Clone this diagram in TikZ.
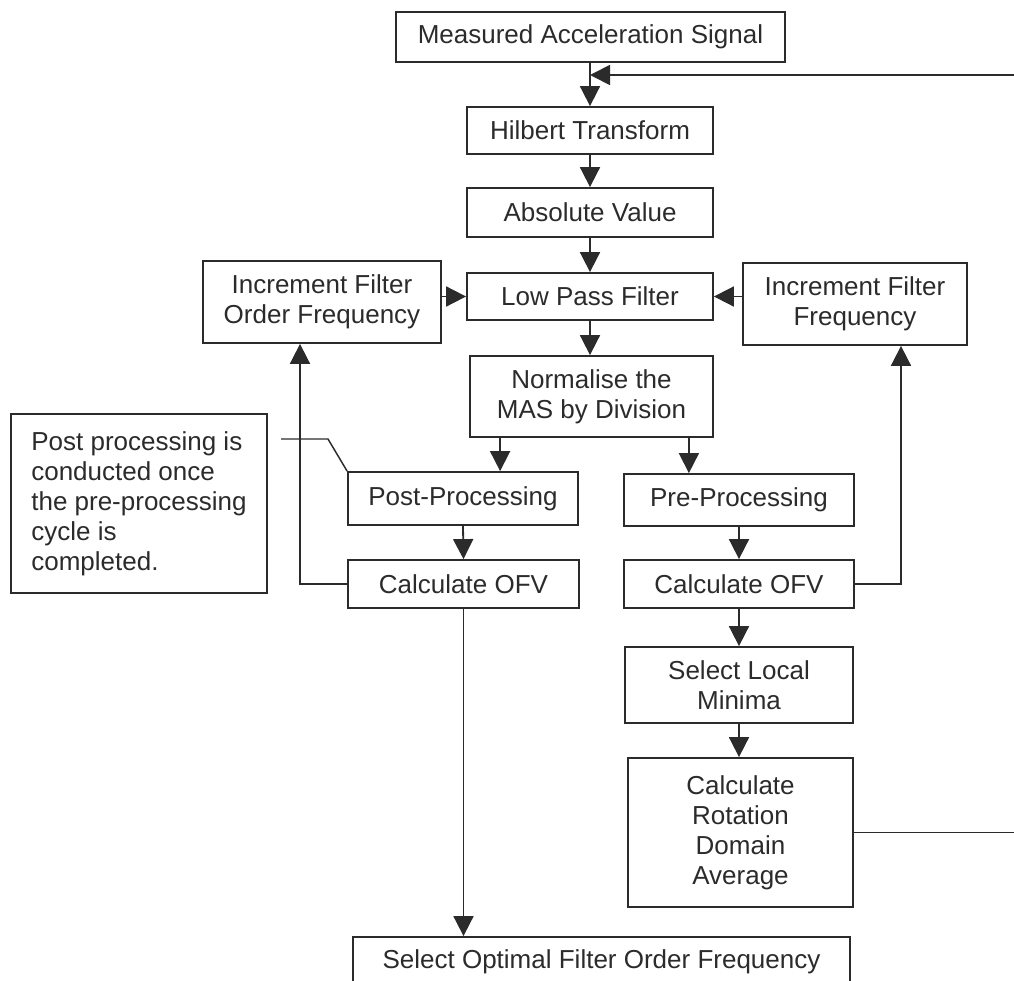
\documentclass[tikz,border=0pt]{standalone}
\usepackage{fontspec}
\setmainfont{Liberation Sans}
\usetikzlibrary{arrows.meta}
\definecolor{ink}{HTML}{2B2B2B}
\begin{document}
\begin{tikzpicture}[x=0.75pt,y=-0.75pt,
  every node/.style={font=\fontsize{19.5}{22.5}\selectfont, text=ink},
  box/.style 2 args={draw=ink, line width=1.35pt, inner sep=0pt, align=center,
     minimum width=#1*0.75pt, minimum height=#2*0.75pt},
  conn/.style={draw=ink, line width=1.35pt},
  arr/.style={conn, -{Triangle[length=15pt,width=15pt]}}]
\useasboundingbox (0,0) rectangle (1014,981);
\clip (0,0) rectangle (1014,981);

\node[box={389}{50}] (mas) at (590.5,37) {Measured Acceleration Signal};
\node[box={246}{47}] (hil) at (590,130.5) {Hilbert Transform};
\node[box={246}{49}] (abs) at (590,212.5) {Absolute Value};
\node[box={246}{47}] (lpf) at (590,296.5) {Low Pass Filter};
\node[box={238}{82}] (ifof) at (322,302) {Increment Filter\\Order Frequency};
\node[box={224}{82}] (iff) at (855,304) {Increment Filter\\Frequency};
\node[box={243}{81}] (norm) at (591.5,396.5) {Normalise the\\MAS by Division};
\node[box={230}{53}] (post) at (463,498.5) {Post-Processing};
\node[box={230}{52}] (pre) at (739,500) {Pre-Processing};
\node[box={231}{48}] (cofL) at (463.5,584) {Calculate OFV};
\node[box={230}{48}] (cofR) at (739,584) {Calculate OFV};
\node[box={228}{76}] (slm) at (739,685) {Select Local\\Minima};
\node[box={225}{149}] (rda) at (740.5,832.5) {Calculate\\Rotation\\Domain\\Average};
\node[box={497}{50}] (sof) at (601.5,962) {Select Optimal Filter Order Frequency};
\node[box={256}{179}, align=left] (note) at (139,503.5)
  {Post processing is\\conducted once\\the pre-processing\\cycle is\\completed.};

% main chain
\draw[arr] (hil.north |- mas.south) -- (hil.north);
\draw[arr] (hil.south) -- (abs.north);
\draw[arr] (abs.south) -- (lpf.north);
\draw[arr] (lpf.south) -- (lpf.south |- norm.north);

% feedback from the right edge
\coordinate (edgeT) at (1014,75);
\coordinate (edgeB) at (1014,832.5);
\draw[arr] (edgeT) -- (edgeT -| hil.north);
\draw[conn] (rda.east) -- (edgeB);

% increment boxes into LPF
\draw[arr] (lpf.west -| ifof.east) -- (lpf.west);
\draw[arr] (lpf.east -| iff.west) -- (lpf.east);

% normalise to post/pre
\coordinate (n1) at ([xshift=23.25pt]norm.south west);
\coordinate (n2) at ([xshift=-18.75pt]norm.south east);
\draw[arr] (n1) -- (n1 |- post.north);
\draw[arr] (n2) -- (n2 |- pre.north);

\draw[arr] (post.south) -- (cofL.north);
\draw[arr] (pre.south) -- (cofR.north);
\draw[arr] (cofR.south) -- (slm.north);
\draw[arr] (slm.south) -- (slm.south |- rda.north);

% loops back to increment boxes
\coordinate (lx) at (300,0);
\coordinate (rx) at (901,0);
\draw[arr] (cofL.west) -| (lx |- ifof.south);
\draw[arr] (cofR.east) -| (rx |- iff.south);

% to final selection
\draw[arr] (cofL.south) -- (cofL.south |- sof.north);

% callout leader
\coordinate (c1) at (281,439);
\coordinate (c2) at (328,439);
\draw[conn, line width=1.1pt] (c1) -- (c2) -- (post.north west);
\end{tikzpicture}
\end{document}
